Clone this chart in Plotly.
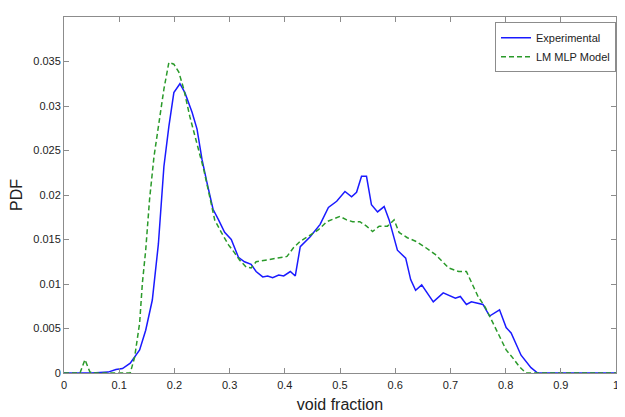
import plotly.graph_objects as go

exp_x = [0.0, 0.02, 0.05, 0.08, 0.094, 0.106, 0.12, 0.137, 0.148, 0.16, 0.171, 0.181, 0.19, 0.199, 0.21,
         0.219, 0.232, 0.241, 0.25, 0.259, 0.27, 0.28, 0.291, 0.303, 0.316, 0.327, 0.339, 0.348, 0.36,
         0.369, 0.378, 0.389, 0.398, 0.41, 0.419, 0.428, 0.446, 0.464, 0.479, 0.494, 0.509, 0.521, 0.53,
         0.539, 0.548, 0.557, 0.568, 0.58, 0.589, 0.604, 0.619, 0.628, 0.637, 0.648, 0.669, 0.687, 0.7,
         0.709, 0.718, 0.729, 0.738, 0.759, 0.771, 0.789, 0.801, 0.81, 0.828, 0.846, 0.858, 0.9, 0.95, 1.0]
exp_y = [0.0, 0.0, 0.0, 0.0001, 0.0004, 0.0005, 0.0011, 0.0026, 0.0048, 0.0082, 0.0145, 0.0232, 0.0277, 0.0315, 0.0325,
         0.0315, 0.0293, 0.0274, 0.024, 0.0214, 0.0184, 0.0172, 0.0158, 0.015, 0.013, 0.0125, 0.0122, 0.0114, 0.0108,
         0.0109, 0.0107, 0.011, 0.0109, 0.0114, 0.0109, 0.0142, 0.0153, 0.0167, 0.0186, 0.0193, 0.0204, 0.0198, 0.0203,
         0.0221, 0.0221, 0.0189, 0.0181, 0.0187, 0.0172, 0.0138, 0.0129, 0.0105, 0.0093, 0.0099, 0.008, 0.009, 0.0086,
         0.0084, 0.0086, 0.0077, 0.008, 0.0077, 0.0064, 0.0071, 0.0051, 0.0045, 0.002, 0.0006, 0.0, 0.0, 0.0, 0.0]

mod_x = [0.0, 0.017, 0.029, 0.038, 0.047, 0.06, 0.09, 0.12, 0.128, 0.137, 0.142, 0.148, 0.155, 0.163, 0.172,
         0.181, 0.19, 0.199, 0.208, 0.217, 0.228, 0.24, 0.253, 0.264, 0.273, 0.285, 0.298, 0.309, 0.318,
         0.33, 0.339, 0.348, 0.369, 0.389, 0.404, 0.416, 0.428, 0.446, 0.461, 0.476, 0.5, 0.512, 0.523,
         0.536, 0.548, 0.559, 0.571, 0.586, 0.598, 0.607, 0.622, 0.637, 0.655, 0.673, 0.697, 0.715, 0.729,
         0.738, 0.75, 0.763, 0.777, 0.79, 0.801, 0.813, 0.825, 0.837, 0.9, 0.95, 1.0]
mod_y = [0.0, 0.0, 0.0, 0.0015, 0.0001, 0.0, 0.0, 0.0, 0.0018, 0.0056, 0.0101, 0.0138, 0.0195, 0.0243, 0.0281,
         0.0319, 0.0349, 0.0347, 0.0338, 0.0319, 0.0288, 0.0259, 0.0229, 0.0198, 0.0172, 0.0158, 0.0144, 0.0135, 0.0127,
         0.0119, 0.0118, 0.0125, 0.0127, 0.0129, 0.0131, 0.0141, 0.0148, 0.0155, 0.0161, 0.017, 0.0176, 0.0172, 0.017,
         0.017, 0.0165, 0.0159, 0.0165, 0.0165, 0.0172, 0.0158, 0.0152, 0.0148, 0.0141, 0.0133, 0.0118, 0.0114, 0.0114,
         0.0102, 0.0086, 0.0074, 0.0056, 0.0041, 0.0026, 0.0017, 0.0007, 0.0, 0.0, 0.0, 0.0]

x_ticks = [0, 0.1, 0.2, 0.3, 0.4, 0.5, 0.6, 0.7, 0.8, 0.9, 1]
x_labels = ["0", "0.1", "0.2", "0.3", "0.4", "0.5", "0.6", "0.7", "0.8", "0.9", "1"]
y_ticks = [0, 0.005, 0.01, 0.015, 0.02, 0.025, 0.03, 0.035]
y_labels = ["0", "0.005", "0.01", "0.015", "0.02", "0.025", "0.03", "0.035"]

FONT = "Liberation Sans, Arial, sans-serif"

fig = go.Figure()
fig.add_trace(go.Scatter(x=exp_x, y=exp_y, mode="lines", name="Experimental",
                         line=dict(color="#1a1aff", width=1.5)))
fig.add_trace(go.Scatter(x=mod_x, y=mod_y, mode="lines", name="LM MLP Model",
                         line=dict(color="#2a9a2a", width=1.5, dash="5px,3px")))

axis_common = dict(showgrid=False, zeroline=False, showline=True, linecolor="#8c8c8c", linewidth=1,
                   mirror="allticks", ticks="inside", ticklen=5, tickcolor="#8c8c8c",
                   tickfont=dict(family=FONT, size=11, color="#222"))

fig.update_xaxes(range=[0, 1], tickvals=x_ticks, ticktext=x_labels, ticklabelstandoff=2,
                 title=dict(text="void fraction", font=dict(family=FONT, size=16, color="#222"),
                            standoff=8), **axis_common)
fig.update_yaxes(range=[0, 0.04], tickvals=y_ticks, ticktext=y_labels, ticklabelstandoff=0,
                 title=dict(text="PDF", font=dict(family=FONT, size=16, color="#222"),
                            standoff=8), **axis_common)

fig.update_layout(
    width=617, height=409,
    margin=dict(l=52, r=6, t=9, b=44),
    plot_bgcolor="white", paper_bgcolor="white",
    legend=dict(x=1.0, y=0.985, xanchor="right", yanchor="top",
                bgcolor="white", bordercolor="#8c8c8c", borderwidth=1,
                font=dict(family=FONT, size=11, color="#222"),
                tracegroupgap=0, itemwidth=30),
)

fig.write_html("out.html")
